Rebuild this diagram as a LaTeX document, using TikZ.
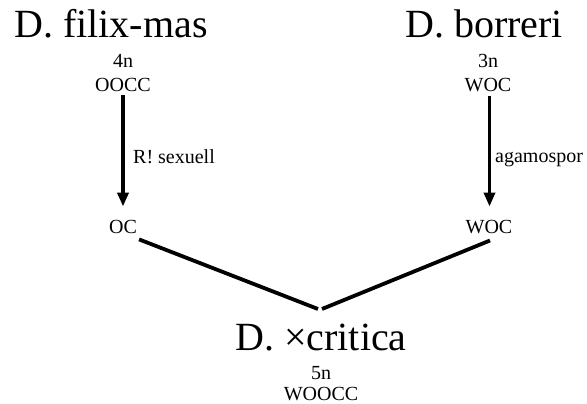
\documentclass[tikz,border=0pt]{standalone}
\usepackage{fontspec}
\setmainfont{Liberation Serif}
\usetikzlibrary{arrows.meta}

\begin{document}
\begin{tikzpicture}[x=1pt, y=-1pt,
  species/.style={font=\fontsize{40}{48}\selectfont, inner sep=0pt, anchor=base},
  genome/.style={font=\fontsize{20}{24}\selectfont, inner sep=0pt, anchor=base},
  descent/.style={-{Triangle[width=11pt,length=14pt]}, line width=3.8pt},
  cross/.style={line width=3.8pt}]
  \useasboundingbox (0,0) rectangle (587,404);
  % parents
  \node[species] (filix) at (111,38) {D. filix-mas};
  \node[genome] (filixn) at (123,68) {4n};
  \node[genome] (filixg) at (123,92) {OOCC};
  \node[species] (borreri) at (484,38) {D. borreri};
  \node[genome] (borrerin) at (488,68) {3n};
  \node[genome] (borrerig) at (488,92) {WOC};
  % gametes
  \node[genome] (filixoc) at (123,233) {OC};
  \node[genome] (borrerioc) at (489,233) {WOC};
  \draw[descent] ([yshift=-3pt]filixg.south) -- ([yshift=13pt]filixoc.north);
  \draw[descent] ([xshift=1.5pt,yshift=-3pt]borrerig.south) -- ([xshift=0.5pt,yshift=13pt]borrerioc.north);
  \node[genome, anchor=base west] (sexlab) at (133,163) {R! sexuell};
  \node[genome, anchor=base west] (agalab) at (495,162) {agamospor};
  % hybrid
  \coordinate (meetl) at (318,309);
  \coordinate (meetr) at (322,309);
  \draw[cross] ([xshift=2pt,yshift=-6pt]filixoc.south east) -- (meetl);
  \draw[cross] ([xshift=1pt,yshift=-7pt]borrerioc.south) -- (meetr);
  \node[species] (critica) at (321,350) {D. ×critica};
  \node[genome] (crititican) at (321,379) {5n};
  \node[genome] (criticag) at (321,400) {WOOCC};
\end{tikzpicture}
\end{document}
